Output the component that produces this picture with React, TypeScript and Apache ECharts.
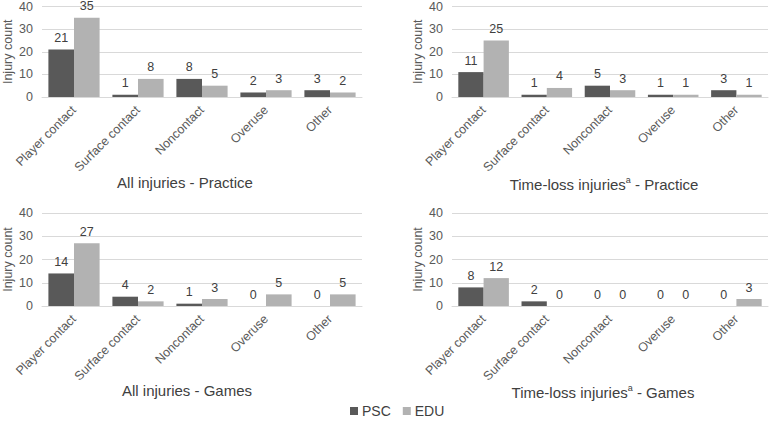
import React, { useEffect, useRef } from "react";
import * as echarts from "echarts";

const categories = ["Player contact", "Surface contact", "Noncontact", "Overuse", "Other"];
const seriesNames = ["PSC", "EDU"];

const allPracticePSC = [21, 1, 8, 2, 3];
const allPracticeEDU = [35, 8, 5, 3, 2];
const tlPracticePSC = [11, 1, 5, 1, 3];
const tlPracticeEDU = [25, 4, 3, 1, 1];
const allGamesPSC = [14, 4, 1, 0, 0];
const allGamesEDU = [27, 2, 3, 5, 5];
const tlGamesPSC = [8, 2, 0, 0, 0];
const tlGamesEDU = [12, 0, 0, 0, 3];

const panelTitles = [
  "All injuries - Practice",
  "Time-loss injuries{sup|a} - Practice",
  "All injuries - Games",
  "Time-loss injuries{sup|a} - Games",
];

const yAxisName = "Injury count";

const DARK = "#595959";
const LIGHT = "#b2b2b2";
const FONT = "Liberation Sans, Arial, sans-serif";

export default function App() {
  const ref = useRef<HTMLDivElement>(null);
  useEffect(() => {
    if (!ref.current) return;
    const chart = echarts.init(ref.current, undefined, { renderer: "svg" });
    const grids = [
      { left: 42, top: 4, width: 320, height: 93 },
      { left: 452, top: 4, width: 316, height: 93 },
      { left: 42, top: 213, width: 320, height: 93 },
      { left: 452, top: 213, width: 316, height: 93 },
    ];
    const titlePos = [
      { x: 180, y: 170 },
      { x: 599, y: 170 },
      { x: 182, y: 378 },
      { x: 598, y: 378 },
    ];
    const data = [
      [allPracticePSC, allPracticeEDU],
      [tlPracticePSC, tlPracticeEDU],
      [allGamesPSC, allGamesEDU],
      [tlGamesPSC, tlGamesEDU],
    ];
    const series: any[] = [];
    data.forEach((pair, gi) => {
      pair.forEach((vals, si) => {
        series.push({
          type: "bar",
          name: seriesNames[si],
          xAxisIndex: gi,
          yAxisIndex: gi,
          data: vals,
          barGap: "0%",
          barCategoryGap: "20%",
          itemStyle: { color: si === 0 ? DARK : LIGHT },
          label: {
            show: true,
            position: "top",
            distance: 5,
            color: "#404040",
            fontSize: 12.5,
            fontFamily: FONT,
          },
        });
      });
    });
    chart.setOption({
      animation: false,
      textStyle: { fontFamily: FONT },
      grid: grids,
      title: titlePos.map((p, i) => ({
        text: panelTitles[i],
        left: p.x,
        top: p.y,
        textAlign: "center",
        textStyle: {
          fontSize: 15,
          fontWeight: "normal",
          color: "#404040",
          fontFamily: FONT,
          rich: {
            sup: { fontSize: 9, verticalAlign: "top", color: "#404040", fontFamily: FONT, lineHeight: 18 },
          },
        },
      })),
      legend: {
        data: seriesNames,
        left: 345,
        top: 399,
        icon: "rect",
        itemWidth: 8,
        itemHeight: 8,
        itemGap: 12,
        textStyle: { fontSize: 14, color: "#404040", fontFamily: FONT, padding: [0, 0, 0, -1] },
      },
      xAxis: grids.map((_, i) => ({
        type: "category",
        gridIndex: i,
        data: categories,
        axisLine: { show: true, lineStyle: { color: "#d9d9d9" } },
        axisTick: { show: false },
        axisLabel: {
          rotate: 45,
          interval: 0,
          fontSize: 12.5,
          color: "#595959",
          fontFamily: FONT,
          margin: 11,
        },
      })),
      yAxis: grids.map((_, i) => ({
        type: "value",
        gridIndex: i,
        min: 0,
        max: 40,
        interval: 10,
        name: yAxisName,
        nameLocation: "middle",
        nameGap: 28,
        nameTextStyle: { fontSize: 12.5, color: "#595959", fontFamily: FONT },
        axisLine: { show: false },
        axisTick: { show: false },
        axisLabel: { fontSize: 12.5, color: "#595959", fontFamily: FONT, margin: 9 },
        splitLine: { lineStyle: { color: "#d9d9d9" } },
      })),
      series,
    });
    return () => chart.dispose();
  }, []);
  return (
    <div
      ref={ref}
      style={{ position: "fixed", left: 0, top: 0, width: 772, height: 425, background: "#fff" }}
    />
  );
}
